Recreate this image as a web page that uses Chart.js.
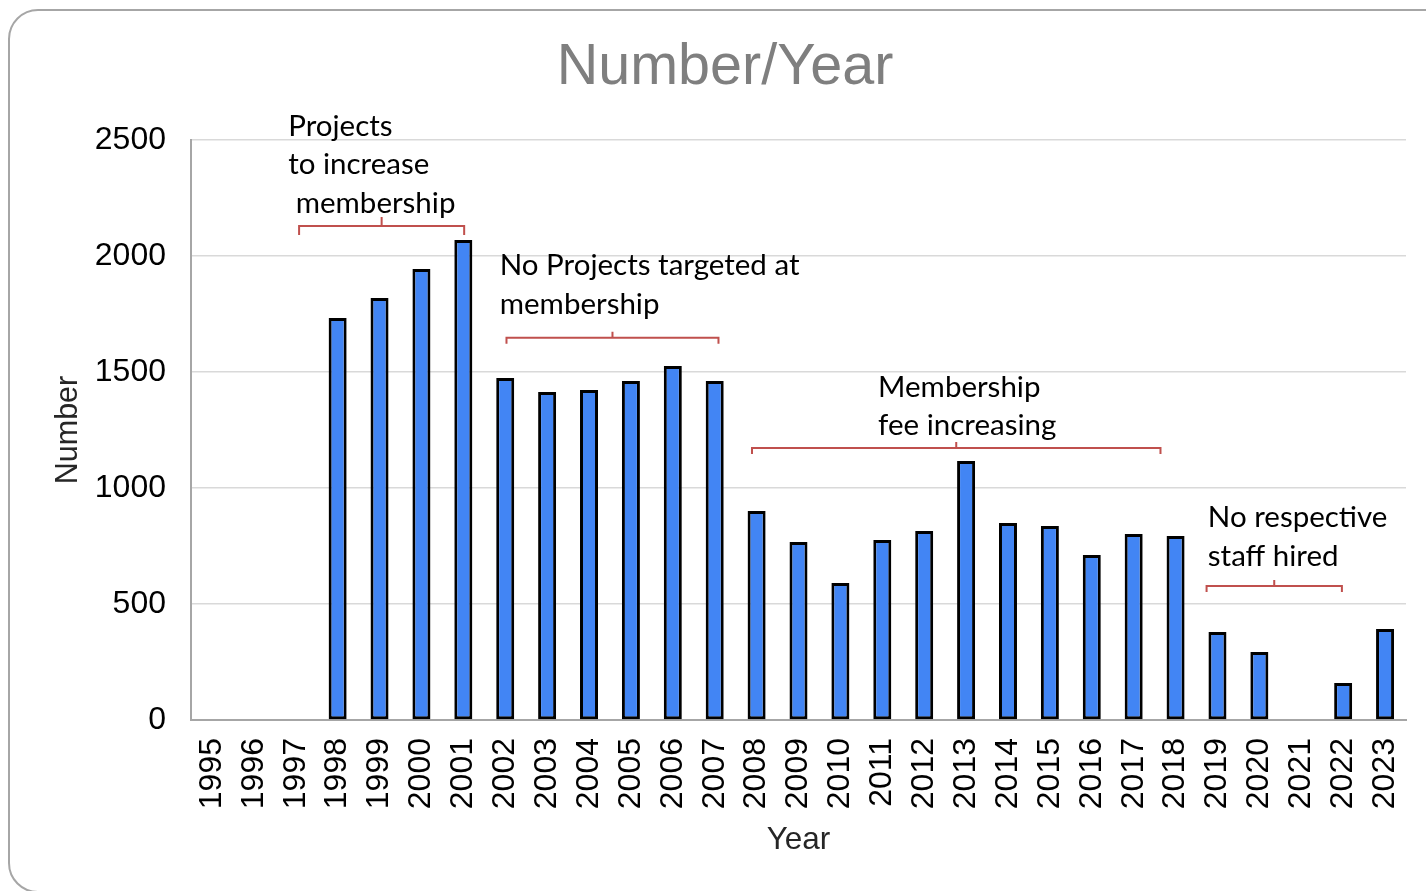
<!DOCTYPE html>
<html>
<head>
<meta charset="utf-8">
<script src="https://cdn.jsdelivr.net/npm/chart.js@4"></script>
<style>
  html, body { margin: 0; padding: 0; background: #fff; overflow: hidden; }
  #frame {
    position: absolute; left: 8px; top: 9px; width: 1450px; height: 884px;
    border: 2px solid #a6a6a6; border-radius: 30px; box-sizing: border-box;
  }
  #myChart { position: absolute; left: 0; top: 0; }
</style>
</head>
<body>
<div id="frame"></div>
<canvas id="myChart" width="1426" height="891"></canvas>
<script>
const years = ['1995', '1996', '1997', '1998', '1999', '2000', '2001', '2002', '2003', '2004',
    '2005', '2006', '2007', '2008', '2009', '2010', '2011', '2012', '2013', '2014',
    '2015', '2016', '2017', '2018', '2019', '2020', '2021', '2022', '2023']
const numbers = [0, 0, 0, 1733, 1819, 1944, 2069, 1474, 1414, 1422,
    1461, 1526, 1461, 901, 767, 591, 776, 815, 1116, 849,
    836, 711, 802, 793, 379, 293, 0, 159, 392]
const yTicks = [0, 500, 1000, 1500, 2000, 2500]

// notes: bracket from/to in category index, y in data value, text anchored the same way
const noteTexts = [
    ['Projects', 'to increase', ' membership'],
    ['No Projects targeted at', 'membership'],
    ['Membership', 'fee increasing'],
    ['No respective', 'staff hired']
]
const noteBrackets = [[2.08, 6.02, 2129], [7.03, 12.09, 1648], [12.89, 22.64, 1172], [23.74, 26.97, 578]]
const noteAnchors = [[1.82, 2560], [6.87, 1957], [15.9, 1435], [23.77, 871]]

const notesPlugin = {
    id: 'notes',
    afterDatasetsDraw(chart) {
        const ctx = chart.ctx
        const x = chart.scales.x
        const y = chart.scales.y
        ctx.save()
        // brackets
        ctx.strokeStyle = '#c0504d'
        ctx.lineWidth = 2
        noteBrackets.forEach((b, i) => {
            const x1 = x.getPixelForValue(b[0])
            const x2 = x.getPixelForValue(b[1])
            const yy = y.getPixelForValue(b[2])
            const mid = (x1 + x2) / 2
            const tick = i === 0 ? 9 : 6
            ctx.beginPath()
            ctx.moveTo(x1, yy + tick)
            ctx.lineTo(x1, yy)
            ctx.lineTo(x2, yy)
            ctx.lineTo(x2, yy + tick)
            ctx.moveTo(mid, yy)
            ctx.lineTo(mid, yy - tick)
            ctx.stroke()
        })
        // texts
        ctx.fillStyle = '#000'
        ctx.font = '29.5px Lato'
        ctx.textAlign = 'left'
        ctx.textBaseline = 'middle'
        noteTexts.forEach((lines, i) => {
            const tx = x.getPixelForValue(noteAnchors[i][0])
            const ty = y.getPixelForValue(noteAnchors[i][1])
            lines.forEach((line, j) => {
                ctx.fillText(line, tx, ty + j * 38.5)
            })
        })
        // chart title
        ctx.fillStyle = '#7f7f7f'
        ctx.font = '57.5px "Liberation Sans"'
        ctx.textAlign = 'center'
        ctx.fillText('Number/Year', 725, 68)
        ctx.restore()
    }
}

const myChart = document.querySelector('#myChart').getContext('2d')

let numberChart = new Chart(myChart, {
    type: 'bar',
    data: {
        labels: years,
        datasets: [{
            label: 'Number',
            data: numbers,
            backgroundColor: '#4285f4',
            borderColor: '#000',
            borderWidth: 3,
            borderSkipped: false,
            categoryPercentage: 1,
            barPercentage: 0.43
        }]
    },
    options: {
        responsive: false,
        animation: false,
        devicePixelRatio: 1,
        layout: { padding: { top: 140, right: 20, left: 0, bottom: 0 } },
        plugins: {
            legend: { display: false },
            tooltip: { enabled: false }
        },
        scales: {
            x: {
                grid: { display: false, drawTicks: false },
                border: { display: true, color: '#a6a6a6', width: 2 },
                ticks: {
                    autoSkip: false, maxRotation: 90, minRotation: 90,
                    padding: 18, color: '#000',
                    font: { family: 'Liberation Sans', size: 32 }
                },
                title: {
                    display: true, text: 'Year', color: '#262626',
                    font: { family: 'Liberation Sans', size: 31.5 },
                    padding: { top: 0, bottom: 32 }
                },
                afterFit: (scale) => {
                    scale.height = 171
                    scale.paddingLeft = 0
                    scale.paddingRight = 0
                }
            },
            y: {
                min: 0,
                max: 2500,
                afterBuildTicks: (scale) => { scale.ticks = yTicks.map(v => ({ value: v })) },
                grid: { color: '#d9d9d9', lineWidth: 1.5, drawTicks: false },
                border: { display: true, color: '#a6a6a6', width: 2 },
                ticks: {
                    padding: 25, color: '#000',
                    font: { family: 'Liberation Sans', size: 32 },
                    callback: (value) => String(value)
                },
                title: {
                    display: true, text: 'Number', color: '#262626',
                    font: { family: 'Liberation Sans', size: 30.5 },
                    padding: { top: 50, bottom: 0 }
                },
                afterFit: (scale) => { scale.width = 191 }
            }
        }
    },
    plugins: [notesPlugin]
})
</script>
</body>
</html>
